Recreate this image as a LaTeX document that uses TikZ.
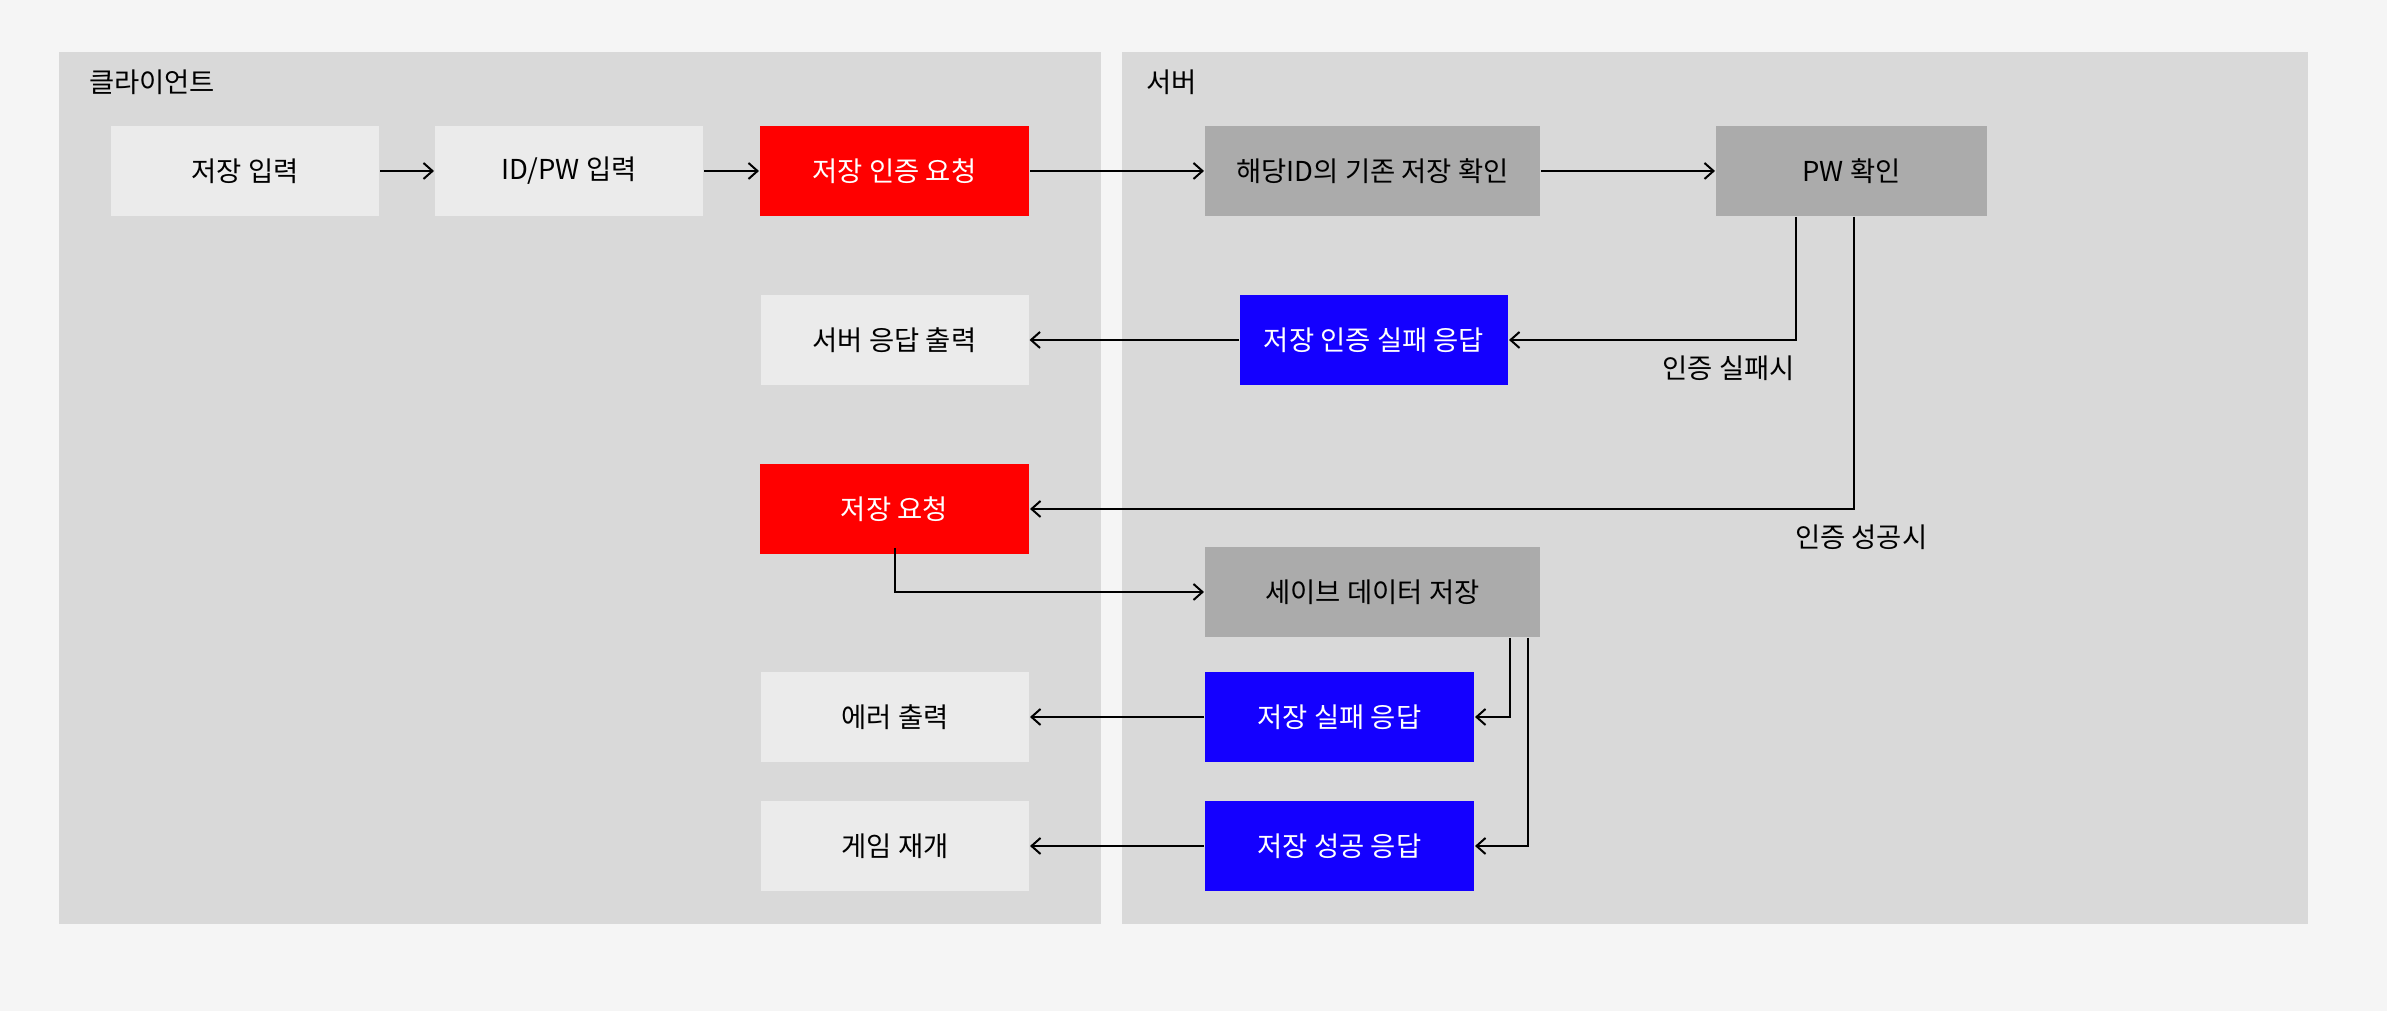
\documentclass[tikz,border=0pt]{standalone}
\usepackage{fontspec}
\setmainfont{Noto Sans CJK KR}
\usetikzlibrary{arrows.meta,positioning,calc}

\definecolor{pagebg}{HTML}{F5F5F5}
\definecolor{lanebg}{HTML}{D9D9D9}
\definecolor{boxlight}{HTML}{EBEBEB}
\definecolor{boxgray}{HTML}{ABABAB}
\definecolor{boxred}{HTML}{FF0000}
\definecolor{boxblue}{HTML}{1400FF}

\tikzset{
   box/.style={rectangle, inner sep=0pt, minimum height=0.9cm, font=\fontsize{7.8}{9}\selectfont},
   clientbox/.style={box, fill=boxlight, minimum width=2.68cm},
   requestbox/.style={box, fill=boxred, text=white, minimum width=2.69cm},
   serverbox/.style={box, fill=boxgray, minimum width=3.35cm},
   replybox/.style={box, fill=boxblue, text=white, minimum width=2.69cm},
   lanelabel/.style={anchor=west, inner sep=0pt, font=\fontsize{7.8}{9}\selectfont},
   branchlabel/.style={inner sep=0pt, font=\fontsize{7.8}{9}\selectfont}
}

\begin{document}
\begin{tikzpicture}[>={Straight Barb[length=0.9mm,width=1.6mm]}, line width=0.57pt]

   \fill[pagebg] (0,0) rectangle (23.87,10.11);
   \useasboundingbox (0,0) rectangle (23.87,10.11);

   % lanes
   \fill[lanebg] (0.59,0.87) rectangle (11.01,9.59);
   \fill[lanebg] (11.22,0.87) rectangle (23.08,9.59);
   \node[lanelabel] (client_lbl) at (0.88,9.29) {클라이언트};
   \node[lanelabel] (server_lbl) at (11.45,9.29) {서버};

   % client side
   \node[clientbox] (save_in)   at (2.45,8.40)  {저장 입력};
   \node[clientbox] (idpw_in)   at (5.69,8.40)  {ID/PW 입력};
   \node[requestbox] (auth_req) at (8.945,8.40) {저장 인증 요청};
   \node[clientbox] (resp_out)  at (8.945,6.71) {서버 응답 출력};
   \node[requestbox] (save_req) at (8.945,5.02) {저장 요청};
   \node[clientbox] (err_out)   at (8.95,2.94)  {에러 출력};
   \node[clientbox] (resume)    at (8.95,1.65)  {게임 재개};

   % server side
   \node[serverbox] (check_id)  at (13.725,8.40) {해당ID의 기존 저장 확인};
   \node[serverbox,minimum width=2.71cm] (pw_check) at (18.515,8.40) {PW 확인};
   \node[replybox,minimum width=2.68cm] (auth_fail) at (13.74,6.71) {저장 인증 실패 응답};
   \node[serverbox] (save_data) at (13.725,4.19) {세이브 데이터 저장};
   \node[replybox] (save_fail)  at (13.395,2.94) {저장 실패 응답};
   \node[replybox] (save_ok)    at (13.395,1.65) {저장 성공 응답};

   \draw[->] (save_in) -- (idpw_in);
   \draw[->] (idpw_in) -- (auth_req);
   \draw[->] (auth_req) -- (check_id);
   \draw[->] (check_id) -- (pw_check);

   \draw[->] ([xshift=-0.555cm]pw_check.south) |- (auth_fail.east);
   \draw[->] ([xshift=0.025cm]pw_check.south) |- (save_req.east);
   \node[branchlabel,anchor=east] (fail_lbl) at (17.96,6.43) {인증 실패시};
   \node[branchlabel,anchor=west] (ok_lbl) at (17.94,4.74) {인증 성공시};

   \draw[->] (auth_fail) -- (resp_out);
   \draw[->] ([yshift=0.07cm]save_req.south) |- (save_data.west);

   \draw[->] ([xshift=-0.31cm]save_data.south east) |- (save_fail.east);
   \draw[->] ([xshift=-0.13cm]save_data.south east) |- (save_ok.east);
   \draw[->] (save_fail) -- (err_out);
   \draw[->] (save_ok) -- (resume);

\end{tikzpicture}
\end{document}
